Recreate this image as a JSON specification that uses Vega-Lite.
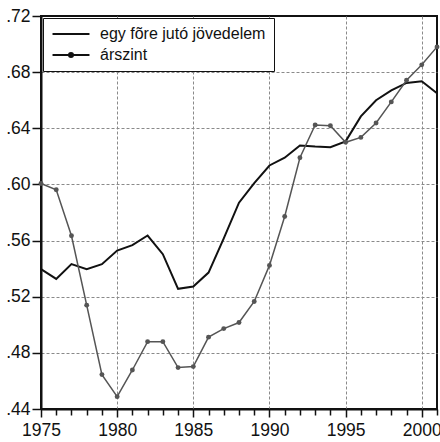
{
  "$schema": "https://vega.github.io/schema/vega-lite/v6.json",
  "width": 396,
  "height": 393,
  "autosize": "none",
  "padding": {"left": 41, "top": 16, "right": 3, "bottom": 33},
  "background": "white",
  "config": {
    "font": "Liberation Sans",
    "view": {"stroke": "#111", "strokeWidth": 2},
    "axis": {
      "labelFont": "Liberation Sans",
      "labelFontSize": 17.5,
      "labelColor": "#111",
      "domainColor": "#111",
      "domainWidth": 2,
      "tickColor": "#111",
      "tickWidth": 1.5,
      "gridColor": "#8a8a8a",
      "gridDash": [3, 2],
      "gridWidth": 1,
      "title": null
    }
  },
  "datasets": {
    "d": [
      {"year": 1975, "series": "egy fõre jutó jövedelem", "value": 0.5396},
      {"year": 1976, "series": "egy fõre jutó jövedelem", "value": 0.5327},
      {"year": 1977, "series": "egy fõre jutó jövedelem", "value": 0.5432},
      {"year": 1978, "series": "egy fõre jutó jövedelem", "value": 0.5396},
      {"year": 1979, "series": "egy fõre jutó jövedelem", "value": 0.5432},
      {"year": 1980, "series": "egy fõre jutó jövedelem", "value": 0.5529},
      {"year": 1981, "series": "egy fõre jutó jövedelem", "value": 0.5567},
      {"year": 1982, "series": "egy fõre jutó jövedelem", "value": 0.5636},
      {"year": 1983, "series": "egy fõre jutó jövedelem", "value": 0.5503},
      {"year": 1984, "series": "egy fõre jutó jövedelem", "value": 0.5256},
      {"year": 1985, "series": "egy fõre jutó jövedelem", "value": 0.5272},
      {"year": 1986, "series": "egy fõre jutó jövedelem", "value": 0.5372},
      {"year": 1987, "series": "egy fõre jutó jövedelem", "value": 0.5615},
      {"year": 1988, "series": "egy fõre jutó jövedelem", "value": 0.5870},
      {"year": 1989, "series": "egy fõre jutó jövedelem", "value": 0.6010},
      {"year": 1990, "series": "egy fõre jutó jövedelem", "value": 0.6135},
      {"year": 1991, "series": "egy fõre jutó jövedelem", "value": 0.6190},
      {"year": 1992, "series": "egy fõre jutó jövedelem", "value": 0.6278},
      {"year": 1993, "series": "egy fõre jutó jövedelem", "value": 0.6270},
      {"year": 1994, "series": "egy fõre jutó jövedelem", "value": 0.6265},
      {"year": 1995, "series": "egy fõre jutó jövedelem", "value": 0.6307},
      {"year": 1996, "series": "egy fõre jutó jövedelem", "value": 0.6485},
      {"year": 1997, "series": "egy fõre jutó jövedelem", "value": 0.6600},
      {"year": 1998, "series": "egy fõre jutó jövedelem", "value": 0.6670},
      {"year": 1999, "series": "egy fõre jutó jövedelem", "value": 0.6723},
      {"year": 2000, "series": "egy fõre jutó jövedelem", "value": 0.6735},
      {"year": 2001, "series": "egy fõre jutó jövedelem", "value": 0.6650},
      {"year": 1975, "series": "árszint", "value": 0.6007},
      {"year": 1976, "series": "árszint", "value": 0.5962},
      {"year": 1977, "series": "árszint", "value": 0.5634},
      {"year": 1978, "series": "árszint", "value": 0.5140},
      {"year": 1979, "series": "árszint", "value": 0.4645},
      {"year": 1980, "series": "árszint", "value": 0.4488},
      {"year": 1981, "series": "árszint", "value": 0.4678},
      {"year": 1982, "series": "árszint", "value": 0.4880},
      {"year": 1983, "series": "árszint", "value": 0.4880},
      {"year": 1984, "series": "árszint", "value": 0.4695},
      {"year": 1985, "series": "árszint", "value": 0.4702},
      {"year": 1986, "series": "árszint", "value": 0.4912},
      {"year": 1987, "series": "árszint", "value": 0.4973},
      {"year": 1988, "series": "árszint", "value": 0.5016},
      {"year": 1989, "series": "árszint", "value": 0.5166},
      {"year": 1990, "series": "árszint", "value": 0.5423},
      {"year": 1991, "series": "árszint", "value": 0.5772},
      {"year": 1992, "series": "árszint", "value": 0.6190},
      {"year": 1993, "series": "árszint", "value": 0.6423},
      {"year": 1994, "series": "árszint", "value": 0.6418},
      {"year": 1995, "series": "árszint", "value": 0.6300},
      {"year": 1996, "series": "árszint", "value": 0.6335},
      {"year": 1997, "series": "árszint", "value": 0.6438},
      {"year": 1998, "series": "árszint", "value": 0.6588},
      {"year": 1999, "series": "árszint", "value": 0.6742},
      {"year": 2000, "series": "árszint", "value": 0.6852},
      {"year": 2001, "series": "árszint", "value": 0.6980}
    ]
  },
  "data": {"name": "d"},
  "encoding": {
    "x": {
      "field": "year",
      "type": "quantitative",
      "scale": {"domain": [1975, 2001], "nice": false, "zero": false},
      "axis": {
        "values": [1975,1976,1977,1978,1979,1980,1981,1982,1983,1984,1985,1986,1987,1988,1989,1990,1991,1992,1993,1994,1995,1996,1997,1998,1999,2000,2001],
        "labelExpr": "datum.value % 5 === 0 ? datum.value : ''",
        "format": "d",
        "labelPadding": 4,
        "labelFlush": false,
        "labelOverlap": false,
        "tickSize": {"condition": {"test": "datum.value % 5 === 0", "value": 8}, "value": 6},
        "gridOpacity": {"condition": {"test": "datum.value % 5 === 0 && datum.value > 1975", "value": 1}, "value": 0}
      }
    },
    "y": {
      "field": "value",
      "type": "quantitative",
      "scale": {"domain": [0.44, 0.72], "nice": false, "zero": false},
      "axis": {
        "values": [0.44, 0.48, 0.52, 0.56, 0.60, 0.64, 0.68, 0.72],
        "labelExpr": "substring(format(datum.value, '.2f'), 1)",
        "tickSize": 9,
        "labelPadding": 2,
        "labelFlush": false,
        "labelOverlap": false,
        "gridOpacity": {"condition": {"test": "datum.value > 0.445 && datum.value < 0.715", "value": 1}, "value": 0}
      }
    }
  },
  "layer": [
    {
      "mark": {"type": "line", "strokeWidth": 2, "color": "#111111"},
      "transform": [{"filter": "datum.series === 'egy fõre jutó jövedelem'"}]
    },
    {
      "mark": {"type": "line", "strokeWidth": 1.5, "color": "#555555"},
      "transform": [{"filter": "datum.series === 'árszint'"}]
    },
    {
      "mark": {"type": "circle", "opacity": 1, "size": 24, "color": "#555555"},
      "transform": [{"filter": "datum.series === 'árszint'"}]
    },
    {
      "mark": {"type": "point", "filled": false, "opacity": 1},
      "transform": [{"filter": "datum.year > 3000"}],
      "encoding": {
        "shape": {
          "field": "series",
          "type": "nominal",
          "scale": {
            "domain": ["egy fõre jutó jövedelem", "árszint"],
            "range": ["M-2.64,0H2.64", "M-2.64,0H2.64M0.29,0A0.29,0.29 0 1 1 -0.29,0A0.29,0.29 0 1 1 0.29,0Z"]
          },
          "legend": {
            "title": null,
            "orient": "top-left",
            "offset": 2,
            "padding": 8,
            "fillColor": "white",
            "strokeColor": "#111",
            "symbolSize": 196,
            "symbolOffset": 12,
            "symbolStrokeWidth": 2,
            "symbolStrokeColor": "#111",
            "symbolFillColor": "#555",
            "symbolOpacity": 1,
            "labelFont": "Liberation Sans",
            "labelFontSize": 16,
            "labelColor": "#111",
            "labelOffset": 21,
            "labelLimit": 300,
            "rowPadding": 5,
            "encode": {
              "legend": {
                "update": {
                  "strokeWidth": {"value": 2.5}
                }
              },
              "symbols": {
                "update": {
                  "stroke": {"signal": "datum.value === 'árszint' ? '#555555' : '#111111'"},
                  "fill": {"value": "#555555"},
                  "strokeWidth": {"signal": "datum.value === 'árszint' ? 1.5 : 2"},
                  "opacity": {"value": 1}
                }
              }
            }
          }
        }
      }
    }
  ]
}
